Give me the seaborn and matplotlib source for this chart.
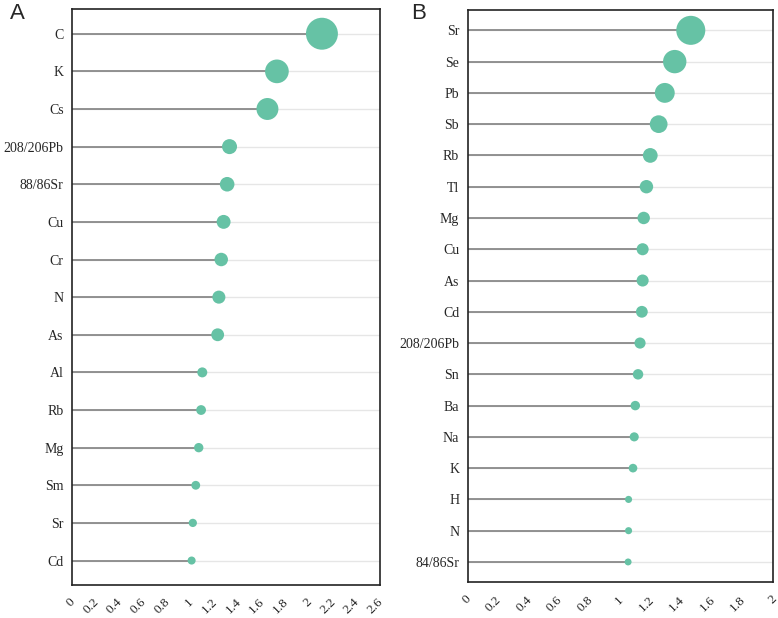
import numpy as np
import pandas as pd
import matplotlib
matplotlib.use("Agg")
import matplotlib.pyplot as plt
import matplotlib.transforms as mtransforms
import seaborn as sns

# data (top to bottom)
a_names = ["C", "K", "Cs", "208/206Pb", "88/86Sr", "Cu", "Cr", "N", "As",
           "Al", "Rb", "Mg", "Sm", "Sr", "Cd"]
a_values = [2.11, 1.73, 1.65, 1.33, 1.31, 1.28, 1.26, 1.24, 1.23,
            1.10, 1.09, 1.07, 1.045, 1.02, 1.01]
a_ticks = [0, 0.2, 0.4, 0.6, 0.8, 1, 1.2, 1.4, 1.6, 1.8, 2, 2.2, 2.4, 2.6]

b_names = ["Sr", "Se", "Pb", "Sb", "Rb", "Tl", "Mg", "Cu", "As", "Cd",
           "208/206Pb", "Sn", "Ba", "Na", "K", "H", "N", "84/86Sr"]
b_values = [1.46, 1.355, 1.29, 1.25, 1.195, 1.17, 1.152, 1.145, 1.145, 1.14,
            1.128, 1.115, 1.097, 1.09, 1.082, 1.053, 1.053, 1.05]
b_ticks = [0, 0.2, 0.4, 0.6, 0.8, 1, 1.2, 1.4, 1.6, 1.8, 2]

DOT = "#66c2a5"

sns.set_style("white")
plt.rcParams["font.family"] = ["Liberation Serif", "DejaVu Serif"]


def tick_txt(t):
    return ("%g" % t)


def draw_panel(fig, ax, names, values, ticks, dmin, dmax):
    df = pd.DataFrame({"element": names, "ratio": values})
    lo, hi = min(values), max(values)
    # marker diameter grows linearly with the value, seaborn wants areas
    size_map = {v: (dmin + (v - lo) / (hi - lo) * (dmax - dmin)) ** 2 for v in values}

    ax.grid(axis="y", color="#e6e6e6", lw=1.0, zorder=0)
    ax.hlines(y=df["element"], xmin=0, xmax=df["ratio"], color="#808080", lw=1.2, zorder=2)
    sns.scatterplot(data=df, x="ratio", y="element", size="ratio", sizes=size_map,
                    color=DOT, linewidth=0, alpha=1, legend=False, ax=ax, zorder=3)

    n = len(names)
    ax.set_ylim(n - 0.35, -0.65)
    ax.set_xlim(ticks[0], ticks[-1])
    ax.set_xticks(ticks)
    ax.tick_params(axis="y", labelsize=10, length=5, width=1, color="#333333", pad=1)
    ax.tick_params(axis="x", length=5, width=1, color="#333333", pad=3)
    ax.set_xticklabels([tick_txt(t) for t in ticks], rotation=45, ha="right",
                       rotation_mode="anchor", fontsize=9.5)
    # nudge rotated labels a touch left so the last one stays inside the figure
    # (done after tick_params, which resets the label transforms)
    shift = mtransforms.ScaledTranslation(-0.03, 0, fig.dpi_scale_trans)
    for lab in ax.get_xticklabels():
        lab.set_transform(lab.get_transform() + shift)
    ax.set_xlabel("")
    ax.set_ylabel("")
    for sp in ax.spines.values():
        sp.set_color("#222222")
        sp.set_linewidth(1.2)
    ax.set_axisbelow(True)


fig = plt.figure(figsize=(7.78, 6.18), dpi=100)
ax_a = fig.add_axes([0.0925, 0.0534, 0.3959, 0.9316])
ax_b = fig.add_axes([0.601, 0.0578, 0.393, 0.926])

# diameters in points (px * 0.72)
draw_panel(fig, ax_a, a_names, a_values, a_ticks, 5.8, 23.0)
draw_panel(fig, ax_b, b_names, b_values, b_ticks, 5.0, 20.9)

fig.text(0.013, 0.995, "A", fontsize=16, family=["Liberation Sans", "DejaVu Sans"],
         va="top", ha="left")
fig.text(0.529, 0.995, "B", fontsize=16, family=["Liberation Sans", "DejaVu Sans"],
         va="top", ha="left")

fig.savefig("out.png", dpi=100)
